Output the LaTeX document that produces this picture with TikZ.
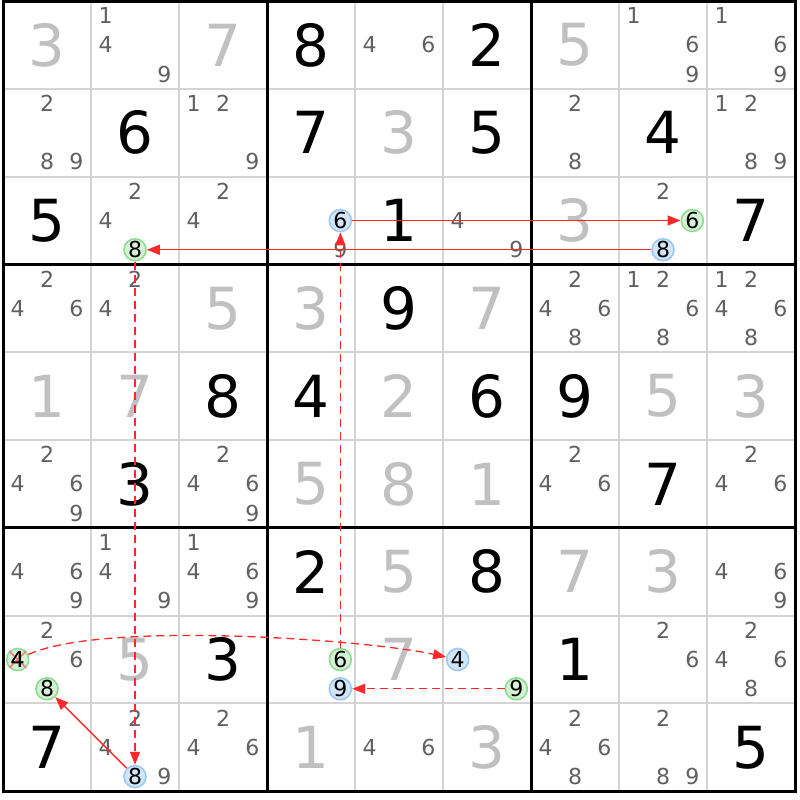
\documentclass[tikz,border=0pt]{standalone}
\usepackage{fontspec}
\setmainfont{DejaVu Sans}
\usetikzlibrary{arrows.meta}

\definecolor{solvedgrey}{HTML}{C0C0C0}
\definecolor{candgrey}{HTML}{606060}
\definecolor{thingrey}{HTML}{D4D4D4}
\definecolor{bluefill}{HTML}{D2E6FA}
\definecolor{blueedge}{HTML}{9CC8F2}
\definecolor{greenfill}{HTML}{D6F2D6}
\definecolor{greenedge}{HTML}{8EDC8E}
\definecolor{linkred}{HTML}{FF2828}
\definecolor{crossred}{HTML}{F07C7C}

\newcommand{\clue}[3]{\node[big] (v#1#2) at ({#2-0.5},{#1-0.5}) {#3};}
\newcommand{\solved}[3]{\node[big,text=solvedgrey] (v#1#2) at ({#2-0.5},{#1-0.5}) {#3};}
\newcommand{\pencil}[3]{\foreach \d in {#3}
	{\node[cand] (c#1#2\d) at ({#2-0.5+(mod(\d-1,3)-1)/3},{#1-0.5+(floor((\d-1)/3)-1)/3}) {\d};}}
\newcommand{\hilite}[4]{\node[#1] (c#2#3#4) at ({#3-0.5+(mod(#4-1,3)-1)/3},{#2-0.5+(floor((#4-1)/3)-1)/3}) {#4};}

\begin{document}
\begin{tikzpicture}[x=88pt,y=-87.8pt]
	\tikzstyle{every node}=[inner sep=0pt]
	\tikzstyle{big}=[font=\fontsize{58}{58}\selectfont]
	\tikzstyle{cand}=[font=\fontsize{22}{22}\selectfont,text=candgrey]
	\tikzstyle{bluecand}=[cand,text=black,circle,draw=blueedge,fill=bluefill,line width=1.6pt,minimum size=22pt]
	\tikzstyle{greencand}=[bluecand,draw=greenedge,fill=greenfill]
	\tikzstyle{stronglink}=[linkred,line width=1.4pt,-{Triangle[length=13pt,width=10pt]}]
	\tikzstyle{weaklink}=[stronglink,line width=1.3pt,dash pattern=on 8pt off 5pt]
	\fill[white] (-0.0341,-0.0114) rectangle (9.0568,9.1002);
	\useasboundingbox (-0.0341,-0.0114) rectangle (9.0568,9.1002);
	% grid
	\foreach \i in {1,2,4,5,7,8} {
		\draw[thingrey,line width=2pt] (\i,0) -- (\i,9);
		\draw[thingrey,line width=2pt] (0,\i) -- (9,\i);
	}
	\foreach \i in {3,6} {
		\draw[line width=3pt] (\i,0) -- (\i,9);
		\draw[line width=3pt] (0,\i) -- (9,\i);
	}
	\draw[line width=3pt] (0,0) rectangle (9,9);
	% given digits
	\clue{1}{4}{8} \clue{1}{6}{2}
	\clue{2}{2}{6} \clue{2}{4}{7} \clue{2}{6}{5} \clue{2}{8}{4}
	\clue{3}{1}{5} \clue{3}{5}{1} \clue{3}{9}{7}
	\clue{4}{5}{9}
	\clue{5}{3}{8} \clue{5}{4}{4} \clue{5}{6}{6} \clue{5}{7}{9}
	\clue{6}{2}{3} \clue{6}{8}{7}
	\clue{7}{4}{2} \clue{7}{6}{8}
	\clue{8}{3}{3} \clue{8}{7}{1}
	\clue{9}{1}{7} \clue{9}{9}{5}
	% solved digits
	\solved{1}{1}{3} \solved{1}{3}{7} \solved{1}{7}{5}
	\solved{2}{5}{3}
	\solved{3}{7}{3}
	\solved{4}{3}{5} \solved{4}{4}{3} \solved{4}{6}{7}
	\solved{5}{1}{1} \solved{5}{2}{7} \solved{5}{5}{2} \solved{5}{8}{5} \solved{5}{9}{3}
	\solved{6}{4}{5} \solved{6}{5}{8} \solved{6}{6}{1}
	\solved{7}{5}{5} \solved{7}{7}{7} \solved{7}{8}{3}
	\solved{8}{2}{5} \solved{8}{5}{7}
	\solved{9}{4}{1} \solved{9}{6}{3}
	% candidates
	\pencil{1}{2}{1,4,9} \pencil{1}{5}{4,6} \pencil{1}{8}{1,6,9} \pencil{1}{9}{1,6,9}
	\pencil{2}{1}{2,8,9} \pencil{2}{3}{1,2,9} \pencil{2}{7}{2,8} \pencil{2}{9}{1,2,8,9}
	\pencil{3}{2}{2,4} \pencil{3}{3}{2,4} \pencil{3}{4}{9} \pencil{3}{6}{4,9} \pencil{3}{8}{2}
	\pencil{4}{1}{2,4,6} \pencil{4}{2}{2,4} \pencil{4}{7}{2,4,6,8} \pencil{4}{8}{1,2,6,8} \pencil{4}{9}{1,2,4,6,8}
	\pencil{6}{1}{2,4,6,9} \pencil{6}{3}{2,4,6,9} \pencil{6}{7}{2,4,6} \pencil{6}{9}{2,4,6}
	\pencil{7}{1}{4,6,9} \pencil{7}{2}{1,4,9} \pencil{7}{3}{1,4,6,9} \pencil{7}{9}{4,6,9}
	\pencil{8}{1}{2,6} \pencil{8}{8}{2,6} \pencil{8}{9}{2,4,6,8}
	\pencil{9}{2}{2,4,9} \pencil{9}{3}{2,4,6} \pencil{9}{5}{4,6} \pencil{9}{7}{2,4,6,8} \pencil{9}{8}{2,8,9}
	% chain
	\hilite{bluecand}{3}{4}{6}
	\hilite{greencand}{3}{8}{6}
	\hilite{bluecand}{3}{8}{8}
	\hilite{greencand}{3}{2}{8}
	\hilite{bluecand}{9}{2}{8}
	\hilite{greencand}{8}{1}{8}
	\hilite{greencand}{8}{1}{4}
	\hilite{bluecand}{8}{6}{4}
	\hilite{greencand}{8}{6}{9}
	\hilite{bluecand}{8}{4}{9}
	\hilite{greencand}{8}{4}{6}
	\draw[crossred,line width=1.6pt] (c814.north west) -- (c814.south east) (c814.north east) -- (c814.south west);
	\node[cand,text=black] (x814) at (c814) {4};
	\draw[stronglink] (c346) -- (c386);
	\draw[stronglink] (c388) -- (c328);
	\draw[weaklink] (c846) -- (c346);
	\draw[weaklink] (c328) -- (c928);
	\draw[stronglink] (c928) -- (c818);
	\draw[weaklink] (c814) to[out=25,in=168,relative,looseness=.5] (c864);
	\draw[weaklink] (c869) -- (c849);
\end{tikzpicture}
\end{document}
